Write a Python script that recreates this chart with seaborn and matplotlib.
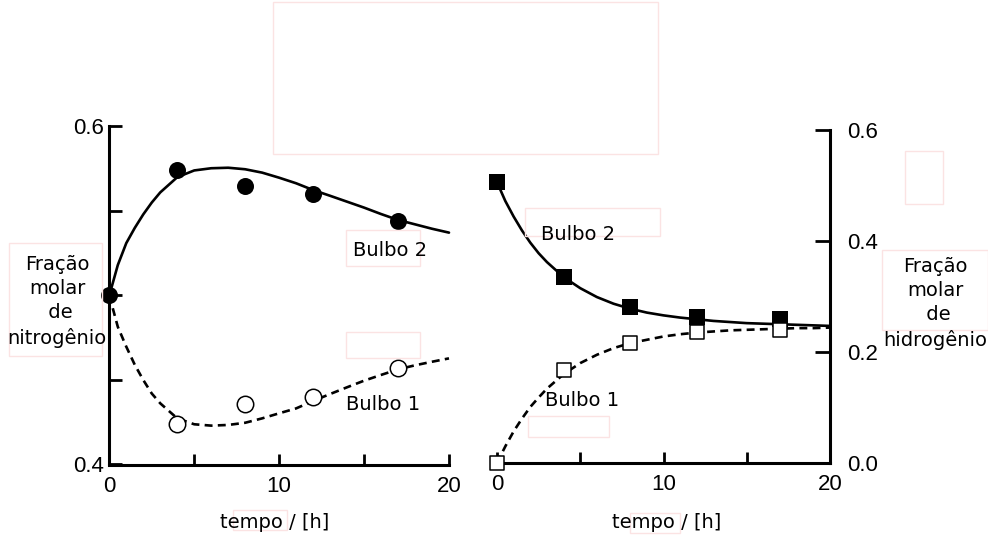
import matplotlib
matplotlib.use("Agg")
import matplotlib.pyplot as plt
import seaborn as sns
import pandas as pd
from matplotlib.patches import Rectangle

# ---------------- data ----------------
# Left panel: nitrogen mole fraction
n_time_pts = [0, 4, 8, 12, 17]
n_bulb2_pts = [0.500, 0.574, 0.565, 0.560, 0.544]
n_bulb1_time = [4, 8, 12, 17]
n_bulb1_pts = [0.424, 0.436, 0.440, 0.457]

curve_time = [0, 0.5, 1, 1.5, 2, 2.5, 3, 4, 5, 6, 7, 8, 9, 10, 11, 12, 13, 14, 15, 16, 17, 18, 19, 20]
n_bulb2_curve = [0.500, 0.518, 0.531, 0.540, 0.548, 0.555, 0.561, 0.570, 0.574, 0.5753, 0.5756, 0.5747,
                 0.5727, 0.5697, 0.5664, 0.5624, 0.559, 0.5555, 0.552, 0.5482, 0.5447, 0.5421, 0.5395, 0.5372]
n_bulb1_curve = [0.500, 0.4815, 0.4697, 0.459, 0.450, 0.442, 0.4362, 0.4273, 0.4238, 0.423, 0.4234, 0.4247,
                 0.4273, 0.4303, 0.4332, 0.4376, 0.4417, 0.4457, 0.4496, 0.453, 0.4563, 0.4587, 0.4608, 0.4628]

# Right panel: hydrogen mole fraction
h_time_pts = [0, 4, 8, 12, 17]
h_bulb2_pts = [0.506, 0.335, 0.281, 0.263, 0.259]
h_bulb1_pts = [0.000, 0.168, 0.216, 0.236, 0.240]
h_bulb2_curve = [0.506, 0.472, 0.444, 0.419, 0.397, 0.378, 0.362, 0.335, 0.315, 0.299, 0.287, 0.278,
                 0.271, 0.266, 0.262, 0.259, 0.256, 0.254, 0.252, 0.251, 0.250, 0.249, 0.248, 0.247]
h_bulb1_curve = [0.000, 0.030, 0.057, 0.080, 0.101, 0.118, 0.134, 0.160, 0.180, 0.195, 0.207, 0.216,
                 0.222, 0.228, 0.232, 0.235, 0.237, 0.239, 0.240, 0.241, 0.242, 0.243, 0.243, 0.244]

n_xticks = [0, 5, 10, 15, 20]
n_xticklabels = ["0", "", "10", "", "20"]
n_yticks = [0.4, 0.45, 0.5, 0.55, 0.6]
n_yticklabels = ["0.4", "", "", "", "0.6"]
h_yticks = [0.0, 0.2, 0.4, 0.6]
h_yticklabels = ["0.0", "0.2", "0.4", "0.6"]

label_bulb1 = "Bulbo 1"
label_bulb2 = "Bulbo 2"
xlabel_text = "tempo / [h]"
ylabel_n = "Fração\nmolar\n de\nnitrogênio"
ylabel_h = "Fração\nmolar\n de\nhidrogênio"

# ---------------- figure ----------------
sns.set_style("ticks")
plt.rcParams['font.family'] = ['DejaVu Sans']
plt.rcParams['text.color'] = 'black'
plt.rcParams['xtick.color'] = 'black'
plt.rcParams['ytick.color'] = 'black'
plt.rcParams['axes.edgecolor'] = 'black'

W, H = 988, 539
fig = plt.figure(figsize=(W / 100, H / 100), dpi=100)

def fx(px):
    return px / W

def fy(py):
    return 1 - py / H

axL = fig.add_axes([fx(109.3), fy(464.5), (449 - 109.3) / W, (464.5 - 126.5) / H])
axR = fig.add_axes([fx(497), fy(463), (830 - 497) / W, (463 - 130) / H])

lw_curve = 1.9
dash = (3, 2)

# Left panel curves
dfn = pd.DataFrame({"t": curve_time, "b2": n_bulb2_curve, "b1": n_bulb1_curve})
sns.lineplot(data=dfn, x="t", y="b2", ax=axL, color="black", lw=lw_curve, clip_on=False)
sns.lineplot(data=dfn, x="t", y="b1", ax=axL, color="black", lw=lw_curve, dashes=False,
             linestyle=(0, dash), clip_on=False)
sns.scatterplot(x=n_time_pts, y=n_bulb2_pts, ax=axL, color="black", s=150, marker="o",
                edgecolor="black", linewidth=0, zorder=5, clip_on=False)
sns.scatterplot(x=n_bulb1_time, y=n_bulb1_pts, ax=axL, facecolor="white", s=140, marker="o",
                edgecolor="black", linewidth=1.1, zorder=5, clip_on=False)

# Right panel curves
dfh = pd.DataFrame({"t": curve_time, "b2": h_bulb2_curve, "b1": h_bulb1_curve})
sns.lineplot(data=dfh, x="t", y="b2", ax=axR, color="black", lw=lw_curve, clip_on=False)
sns.lineplot(data=dfh, x="t", y="b1", ax=axR, color="black", lw=lw_curve, dashes=False,
             linestyle=(0, dash), clip_on=False)
sns.scatterplot(x=h_time_pts, y=h_bulb2_pts, ax=axR, color="black", s=130, marker="s",
                edgecolor="black", linewidth=0, zorder=5, clip_on=False)
sns.scatterplot(x=h_time_pts, y=h_bulb1_pts, ax=axR, facecolor="white", s=95, marker="s",
                edgecolor="black", linewidth=1.1, zorder=5, clip_on=False)

tick_font = dict(family="Liberation Sans", size=16, color="black")

for ax in (axL, axR):
    ax.set_xlim(0, 20)
    ax.set_xticks(n_xticks)
    ax.set_xticklabels(n_xticklabels, fontdict=tick_font)
    ax.set_xlabel("")
    ax.set_ylabel("")
    ax.spines["top"].set_visible(False)
    ax.spines["bottom"].set_linewidth(2.2)
    ax.spines["bottom"].set_color("black")
    ax.patch.set_alpha(0)
    ax.tick_params(axis="x", direction="in", length=8, width=2, pad=8, colors="black")

axL.set_ylim(0.4, 0.6)
axL.set_yticks(n_yticks)
axL.set_yticklabels(n_yticklabels, fontdict=tick_font)
axL.spines["right"].set_visible(False)
axL.spines["left"].set_linewidth(2.2)
axL.spines["left"].set_color("black")
axL.tick_params(axis="y", direction="in", length=9, width=2, pad=4, colors="black")

axR.set_ylim(0.0, 0.6)
axR.set_yticks(h_yticks)
axR.set_yticklabels(h_yticklabels, fontdict=tick_font)
axR.spines["left"].set_visible(False)
axR.spines["right"].set_visible(True)
axR.spines["right"].set_linewidth(2.2)
axR.spines["right"].set_color("black")
axR.yaxis.tick_right()
axR.tick_params(axis="y", direction="in", length=11, width=2, pad=12, colors="black")

# Texts
txt = dict(fontsize=14, color="black", ha="center", va="center", family="DejaVu Sans")
fig.text(fx(57), fy(301.5), ylabel_n, linespacing=1.33, **txt)
fig.text(fx(935), fy(303.5), ylabel_h, linespacing=1.33, **txt)
fig.text(fx(390), fy(250), label_bulb2, **txt)
fig.text(fx(383), fy(405), label_bulb1, **txt)
fig.text(fx(578), fy(234), label_bulb2, **txt)
fig.text(fx(582), fy(400), label_bulb1, **txt)
fig.text(fx(275), fy(522), xlabel_text, **txt)
fig.text(fx(667), fy(522), xlabel_text, **txt)

# Faint annotation boxes
boxes = [(273.3, 2.3, 658.3, 154.3), (905, 151, 942.7, 204.3), (881.7, 250, 987.7, 330),
         (9.3, 243.3, 101.7, 355.7), (345.7, 230, 420, 265.7), (345.7, 332, 420, 358),
         (525, 207.7, 660, 236), (528, 416, 609, 437), (233, 510, 287, 530), (630, 513, 680, 533)]
for x0, y0, x1, y1 in boxes:
    fig.patches.append(Rectangle((fx(x0), fy(y1)), (x1 - x0) / W, (y1 - y0) / H,
                                 transform=fig.transFigure, fill=False,
                                 edgecolor="#fbe3e3", linewidth=1.0, zorder=0))

fig.savefig("out.png", dpi=100)
